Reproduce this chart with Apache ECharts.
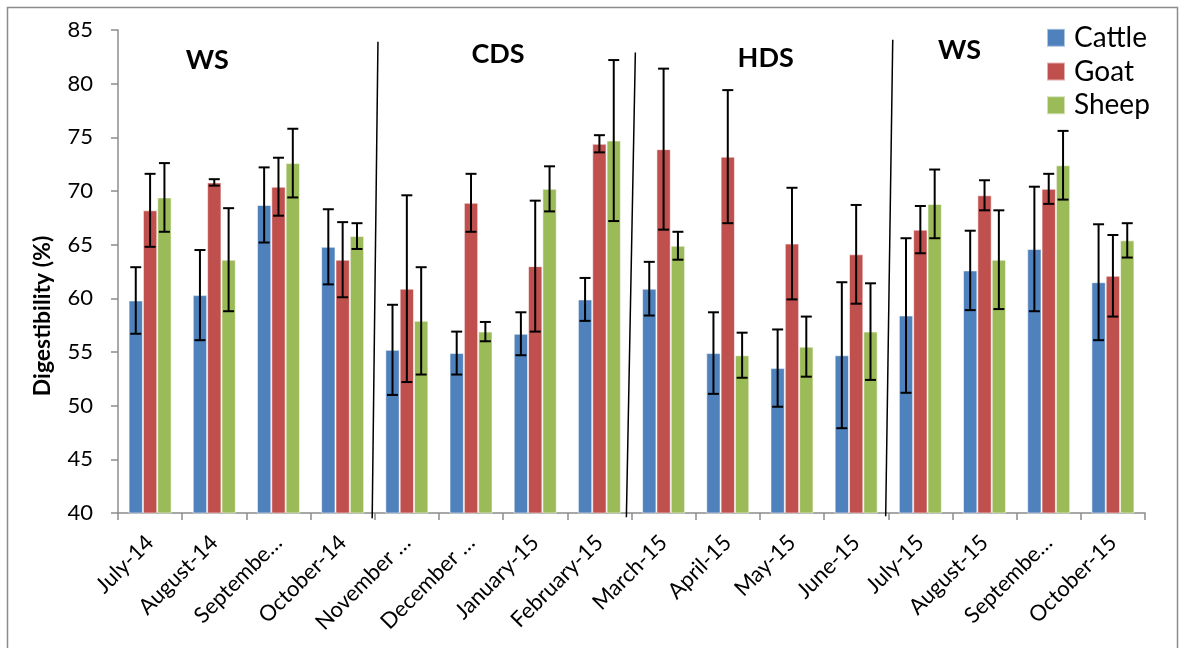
<!DOCTYPE html>
<html>
<head>
<meta charset="utf-8">
<script src="https://cdn.jsdelivr.net/npm/echarts@6/dist/echarts.min.js"></script>
<style>
  html, body { margin: 0; padding: 0; background: #fff; }
  #chart { width: 1181px; height: 648px; }
</style>
</head>
<body>
<div id="chart"></div>
<script>
// Monthly digestibility (%) by animal species, mean and standard deviation
const months = ['July-14', 'August-14', 'Septembe…', 'October-14', 'November …', 'December …',
  'January-15', 'February-15', 'March-15', 'April-15', 'May-15', 'June-15',
  'July-15', 'August-15', 'Septembe…', 'October-15'];

const cattle   = [59.8, 60.3, 68.7, 64.8, 55.2, 54.9, 56.7, 59.9, 60.9, 54.9, 53.5, 54.7, 58.4, 62.6, 64.6, 61.5];
const cattleSd = [3.1, 4.2, 3.5, 3.5, 4.2, 2.0, 2.0, 2.0, 2.5, 3.8, 3.6, 6.8, 7.2, 3.7, 5.8, 5.4];

const goat     = [68.2, 70.8, 70.4, 63.6, 60.9, 68.9, 63.0, 74.4, 73.9, 73.2, 65.1, 64.1, 66.4, 69.6, 70.2, 62.1];
const goatSd   = [3.4, 0.3, 2.7, 3.5, 8.7, 2.7, 6.1, 0.8, 7.5, 6.2, 5.2, 4.6, 2.2, 1.4, 1.4, 3.8];

const sheep    = [69.4, 63.6, 72.6, 65.8, 57.9, 56.9, 70.2, 74.7, 64.9, 54.7, 55.5, 56.9, 68.8, 63.6, 72.4, 65.4];
const sheepSd  = [3.2, 4.8, 3.2, 1.2, 5.0, 0.9, 2.1, 7.5, 1.3, 2.1, 2.8, 4.5, 3.2, 4.6, 3.2, 1.6];

const seasons  = ['WS', 'CDS', 'HDS', 'WS'];

const yTicks = { min: 40, max: 85, step: 5 };

const colors = ['#4F81BD', '#C0504D', '#9BBB59'];
const FONT = 'Lato, "Open Sans", sans-serif';
const CATEGORY_GAP = 0.33;

const chart = echarts.init(document.getElementById('chart'), null, { renderer: 'canvas' });

function barSeries(name, values, color) {
  return {
    name: name,
    type: 'bar',
    data: values,
    barGap: '0%',
    barCategoryGap: (CATEGORY_GAP * 100) + '%',
    itemStyle: { color: color, borderColor: 'rgba(255,255,255,0.55)', borderWidth: 1 },
    emphasis: { disabled: true },
    z: 2
  };
}

// Whisker series drawn on top of the bars: slot 0,1,2 within each category
function errorSeries(values, sds, slot) {
  return {
    type: 'custom',
    silent: true,
    z: 5,
    data: values.map((v, i) => [i, v, sds[i]]),
    encode: { x: 0, y: 1 },
    renderItem: function (params, api) {
      const i = api.value(0), mean = api.value(1), sd = api.value(2);
      const band = api.size([1, 0])[0];
      const bw = band * (1 - CATEGORY_GAP) / 3;
      const hi = api.coord([i, mean + sd]);
      const lo = api.coord([i, mean - sd]);
      const x = hi[0] + (slot - 1) * bw;
      const cap = 5.5;
      const style = { stroke: '#000', lineWidth: 2 };
      return {
        type: 'group',
        children: [
          { type: 'line', shape: { x1: x, y1: hi[1], x2: x, y2: lo[1] }, style: style },
          { type: 'line', shape: { x1: x - cap, y1: hi[1], x2: x + cap, y2: hi[1] }, style: style },
          { type: 'line', shape: { x1: x - cap, y1: lo[1], x2: x + cap, y2: lo[1] }, style: style }
        ]
      };
    }
  };
}

const option = {
  animation: false,
  backgroundColor: '#fff',
  grid: { left: 118, right: 36, top: 30, bottom: 135 },
  legend: {
    orient: 'vertical',
    left: 1046,
    top: 21,
    padding: 0,
    itemWidth: 18,
    itemHeight: 18,
    itemGap: 0,
    icon: 'rect',
    data: ['Cattle', 'Goat', 'Sheep'],
    textStyle: { fontFamily: FONT, fontSize: 28, lineHeight: 33.7, color: '#000', padding: [0, 0, 0, 4] }
  },
  xAxis: {
    type: 'category',
    data: months,
    boundaryGap: true,
    axisLine: { lineStyle: { color: '#8c8c8c', width: 1.5 } },
    axisTick: { show: true, length: 7, lineStyle: { color: '#8c8c8c', width: 1.5 } },
    axisLabel: {
      rotate: 45, interval: 0, fontFamily: FONT, fontSize: 22, color: '#000',
      margin: 26, align: 'right', verticalAlign: 'middle'
    }
  },
  yAxis: {
    type: 'value',
    min: yTicks.min,
    max: yTicks.max,
    interval: yTicks.step,
    splitLine: { show: false },
    axisLine: { show: true, lineStyle: { color: '#8c8c8c', width: 1.5 } },
    axisTick: { show: true, length: 7, lineStyle: { color: '#8c8c8c', width: 1.5 } },
    axisLabel: { fontFamily: FONT, fontSize: 22, color: '#000', margin: 25 }
  },
  series: [
    barSeries('Cattle', cattle, colors[0]),
    barSeries('Goat', goat, colors[1]),
    barSeries('Sheep', sheep, colors[2]),
    errorSeries(cattle, cattleSd, 0),
    errorSeries(goat, goatSd, 1),
    errorSeries(sheep, sheepSd, 2)
  ]
};

chart.setOption(option);

// Season annotations: slanted divider lines and season names, placed in axis units
function toPx(catPos, value) {
  const c0 = chart.convertToPixel({ xAxisIndex: 0 }, months[0]);
  const c1 = chart.convertToPixel({ xAxisIndex: 0 }, months[1]);
  const band = c1 - c0;
  const x = c0 - band / 2 + catPos * band;
  const y = chart.convertToPixel({ yAxisIndex: 0 }, value);
  return [x, y];
}

const dividers = [
  { top: [4.05, 83.9], bottom: [3.96, 39.5] },
  { top: [8.06, 82.9], bottom: [7.92, 39.6] },
  { top: [12.07, 84.1], bottom: [11.96, 39.7] }
];
const seasonLabelAt = [[1.39, 82.2], [5.92, 82.7], [10.09, 82.4], [13.11, 83.1]];

const graphics = [];
dividers.forEach(d => {
  const a = toPx(d.top[0], d.top[1]);
  const b = toPx(d.bottom[0], d.bottom[1]);
  graphics.push({
    type: 'line', z: 10,
    shape: { x1: a[0], y1: a[1], x2: b[0], y2: b[1] },
    style: { stroke: '#000', lineWidth: 1.5 }
  });
});
seasons.forEach((s, k) => {
  const p = toPx(seasonLabelAt[k][0], seasonLabelAt[k][1]);
  graphics.push({
    type: 'text', z: 10, x: p[0], y: p[1],
    style: { text: s, fontFamily: FONT, fontSize: 27, fontWeight: 'bold', fill: '#000', align: 'center', verticalAlign: 'middle' }
  });
});
// Value axis title
graphics.push({
  type: 'text', z: 10, x: 42.5, y: 316, rotation: Math.PI / 2,
  style: { text: 'Digestibility (%)', fontFamily: FONT, fontSize: 23, fontWeight: 'bold', fill: '#000', align: 'center', verticalAlign: 'middle' }
});
// Chart frame
graphics.push({
  type: 'rect', z: 0,
  shape: { x: 7.5, y: 7.5, width: 1170, height: 680 },
  style: { fill: 'none', stroke: '#8c8c8c', lineWidth: 1.5 }
});

chart.setOption({ graphic: graphics });
</script>
</body>
</html>
